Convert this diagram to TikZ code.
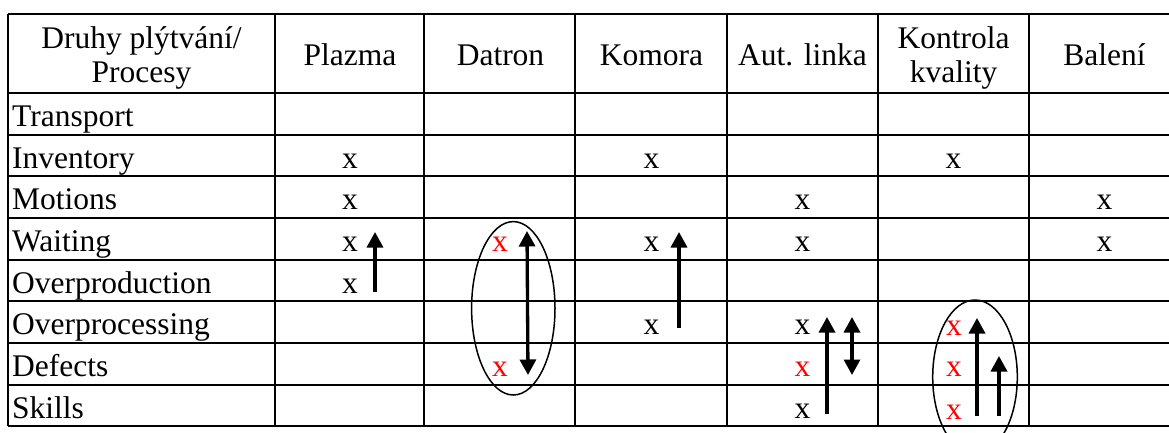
\documentclass[tikz,border=0pt]{standalone}
\usepackage{fontspec}
\setmainfont{Liberation Serif}
\usetikzlibrary{arrows.meta}
\begin{document}
\begin{tikzpicture}[x=1pt,y=-1pt,
  grid/.style={line width=1.6pt,black},
  txt/.style={inner sep=0pt,anchor=base,font=\fontsize{31.5}{34}\selectfont},
  lbl/.style={txt,anchor=base west},
  mk/.style={txt},
  rmk/.style={txt,text=red},
  arr/.style={line width=3.3pt,-{Triangle[width=16pt,length=15.5pt]}},
  darr/.style={line width=3.3pt,{Triangle[width=16pt,length=15.5pt]}-{Triangle[width=16pt,length=15.5pt]}},
  oval/.style={line width=1.5pt,black}]
\useasboundingbox (0,0) rectangle (1169,433);
\clip (0,0) rectangle (1169,433);
\fill[white] (0,0) rectangle (1169,433);
% grid
\foreach \y in {14,93,135,176,218,260,301,343,385}
  \draw[grid] (8,\y) -- (1180,\y);
\draw[line width=2.2pt] (8,426) -- (1180,426);
\foreach \x in {8,275,424,575,727,878,1029,1180}
  \draw[grid] (\x,14) -- (\x,426);
% header
\node[txt] (h0a) at (141.5,49) {Druhy plýtvání/};
\node[txt] (h0b) at (141.5,83) {Procesy};
\node[txt] (h1) at (350,66) {Plazma};
\node[txt] (h2) at (500.5,66) {Datron};
\node[txt] (h3) at (651.5,66) {Komora};
\node[txt] (h4) at (802.5,66) {Aut. linka};
\node[txt] (h5a) at (953.5,49) {Kontrola};
\node[txt] (h5b) at (953.5,83) {kvality};
\node[txt] (h6) at (1104.5,66) {Balení};
% row labels
\node[lbl] (r1) at (12,126) {Transport};
\node[lbl] (r2) at (12,168) {Inventory};
\node[lbl] (r3) at (12,209) {Motions};
\node[lbl] (r4) at (12,251) {Waiting};
\node[lbl] (r5) at (12,293) {Overproduction};
\node[lbl] (r6) at (12,334) {Overprocessing};
\node[lbl] (r7) at (12,376) {Defects};
\node[lbl] (r8) at (12,418) {Skills};
% marks
\node[mk] (i1) at (350,168) {x};
\node[mk] (i3) at (651.5,168) {x};
\node[mk] (i5) at (953.5,168) {x};
\node[mk] (m1) at (350,209) {x};
\node[mk] (m4) at (802.5,209) {x};
\node[mk] (m6) at (1104.5,209) {x};
\node[mk] (w1) at (350,251) {x};
\node[rmk] (w2) at (500,251) {x};
\node[mk] (w3) at (651.5,251) {x};
\node[mk] (w4) at (802.5,251) {x};
\node[mk] (w6) at (1104.5,251) {x};
\node[mk] (op1) at (350,293) {x};
\node[mk] (oc3) at (651.5,334) {x};
\node[mk] (oc4) at (802.5,334) {x};
\node[rmk] (oc5) at (954,335) {x};
\node[rmk] (d2) at (500,376) {x};
\node[rmk] (d4) at (802.5,376) {x};
\node[rmk] (d5) at (954,376) {x};
\node[mk] (s4) at (802.5,418) {x};
\node[rmk] (s5) at (954,419) {x};
% arrow endpoints
\coordinate (pa0) at (375,292); \coordinate (pa1) at (375,232);
\coordinate (da0) at (527,231); \coordinate (da1) at (528,375);
\coordinate (ka0) at (679,328); \coordinate (ka1) at (679,232);
\coordinate (la0) at (827,414); \coordinate (la1) at (827,317);
\coordinate (lb0) at (852,317); \coordinate (lb1) at (852,375);
\coordinate (qa0) at (977,416); \coordinate (qa1) at (977,318);
\coordinate (qb0) at (999,416); \coordinate (qb1) at (999,356);
\draw[arr] (pa0) -- (pa1);
\draw[darr] (da0) -- (da1);
\draw[arr] (ka0) -- (ka1);
\draw[arr] (la0) -- (la1);
\draw[darr] (lb0) -- (lb1);
\draw[arr] (qa0) -- (qa1);
\draw[arr] (qb0) -- (qb1);
% ovals
\coordinate (e1) at (513.3,308.3);
\coordinate (e2) at (975,377);
\draw[oval] (e1) ellipse [x radius=41.7, y radius=86.7];
\draw[oval] (e2) ellipse [x radius=42.3, y radius=77];
\end{tikzpicture}
\end{document}
